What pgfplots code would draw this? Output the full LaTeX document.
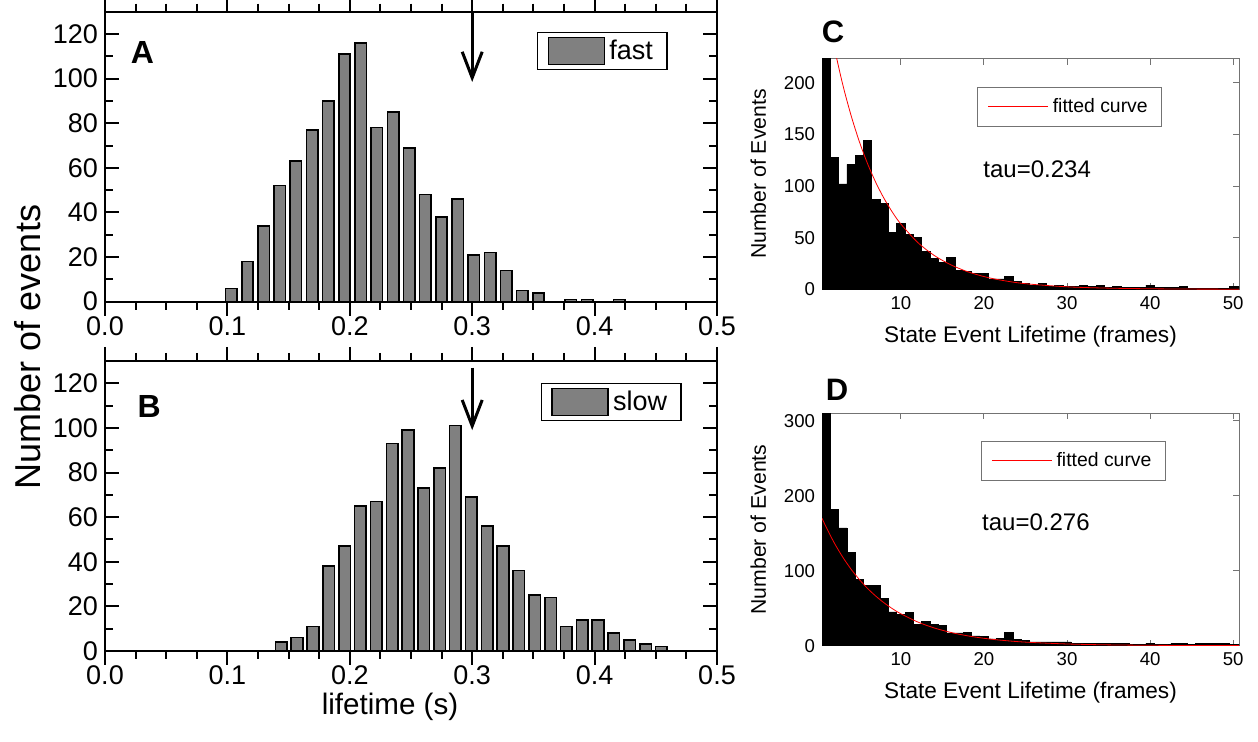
\documentclass[border=0pt]{standalone}
\usepackage{fontspec}
\setmainfont{Liberation Sans}
\usepackage{pgfplots}
\pgfplotsset{compat=1.18}
\usetikzlibrary{arrows.meta}
\definecolor{fitred}{RGB}{255,0,0}

\pgfplotsset{
  boxlegend/.style={legend image code/.code={\draw[fill=black!50, draw=black, line width=0.8pt] (0pt,-6.75pt) rectangle (28pt,6.75pt);}},
  linelegend/.style={legend image code/.code={\draw[draw=fitred, line width=0.6pt] (0pt,0.3pt) -- (30pt,0.3pt);}},
  lifeaxis/.style={
    scale only axis, width=306pt, height=145pt,
    xmin=0, xmax=0.5, ymin=0, ymax=130,
    xtick={0,0.1,0.2,0.3,0.4,0.5},
    xticklabels={0.0,0.1,0.2,0.3,0.4,0.5},
    ytick={0,20,40,60,80,100,120},
    minor x tick num=3, minor y tick num=1,
    tick align=inside,
    axis line style={line width=1pt},
    every tick/.style={black, line width=1pt},
    major tick length=7pt, minor tick length=4pt,
    tick label style={font=\fontsize{13.5}{15}\selectfont},
    xticklabel style={yshift=3pt},
    /pgf/number format/assume math mode=true,
    ybar,
    legend style={draw=black, line width=0.7pt, font=\fontsize{13.5}{15}\selectfont,
      inner xsep=5pt, inner ysep=1.5pt, anchor=north west},
  },
  frameaxis/.style={
    scale only axis, width=208.5pt,
    xmin=0.5, xmax=50.7, ymin=0,
    xtick={10,20,30,40,50},
    tick align=inside,
    axis line style={draw=black!55, line width=0.5pt},
    every tick/.style={black!55, line width=0.5pt},
    major tick length=3pt,
    tick label style={font=\fontsize{9.3}{11}\selectfont},
    /pgf/number format/assume math mode=true,
    xlabel={State Event Lifetime (frames)},
    ylabel={Number of Events},
    xlabel style={at={(rel axis cs:0.5,0)}, anchor=north, yshift=-18pt, inner sep=0pt,
      font=\fontsize{11.3}{13}\selectfont},
    ylabel style={at={(rel axis cs:-0.153,0.5)}, anchor=center, rotate=0,
      font=\fontsize{10.6}{12}\selectfont},
    legend style={draw=black!55, line width=0.5pt, font=\fontsize{9.7}{11}\selectfont,
      inner xsep=5pt, inner ysep=3.5pt, anchor=north west},
  },
}

\begin{document}
\begin{tikzpicture}
\path[use as bounding box] (0,0) rectangle (629pt,371pt);

% ---------------- Panel A ----------------
\begin{axis}[lifeaxis, at={(52.5pt,220.15pt)}, anchor=south west,
  legend style={at={(0.706,0.930)}}]
\addplot[fill=black!50, draw=black, line width=0.8pt, bar width=0.0093, boxlegend]
coordinates {
(0.1032,6) (0.1164,18) (0.1296,34) (0.1428,52) (0.1560,63) (0.1693,77)
(0.1825,90) (0.1957,111) (0.2089,116) (0.2221,78) (0.2353,85) (0.2485,69)
(0.2617,48) (0.2749,38) (0.2881,46) (0.3014,21) (0.3146,22) (0.3278,14)
(0.3410,5) (0.3542,4) (0.3806,1) (0.3938,1) (0.4202,1)
};
\addlegendentry{fast}
\draw[line width=1.5pt, -{Straight Barb[length=13pt, width=10pt]}]
  (axis cs:0.3,130) -- (axis cs:0.3,98.5);
\node[font=\bfseries\fontsize{16}{18}\selectfont] at (rel axis cs:0.061,0.861) {A};
\end{axis}

% ---------------- Panel B ----------------
\begin{axis}[lifeaxis, at={(52.5pt,45.5pt)}, anchor=south west,
  legend style={at={(0.712,0.924)}}]
\addplot[fill=black!50, draw=black, line width=0.8pt, bar width=0.0095, boxlegend]
coordinates {
(0.1440,4) (0.1569,6) (0.1699,11) (0.1828,38) (0.1958,47) (0.2087,65)
(0.2216,67) (0.2346,93) (0.2475,99) (0.2605,73) (0.2734,82) (0.2863,101)
(0.2993,69) (0.3122,56) (0.3252,47) (0.3381,36) (0.3510,25) (0.3640,24)
(0.3769,11) (0.3899,14) (0.4028,14) (0.4157,8) (0.4287,5) (0.4416,3)
(0.4546,2)
};
\addlegendentry{slow}
\draw[line width=1.5pt, -{Straight Barb[length=13pt, width=10pt]}]
  (axis cs:0.3,127) -- (axis cs:0.3,99);
\node[font=\bfseries\fontsize{16}{18}\selectfont] at (rel axis cs:0.072,0.842) {B};
\end{axis}

% ---------------- Panel C ----------------
\begin{axis}[frameaxis, height=115.15pt, ymax=223, ytick={0,50,100,150,200},
  at={(411pt,226.35pt)}, anchor=south west,
  legend style={at={(0.372,0.878)}}]
\addlegendimage{fitred, line width=0.6pt, linelegend}
\addlegendentry{fitted curve}
\addplot[const plot, fill=black, draw=black, forget plot] coordinates {
(0.5,260) (1.5,128) (2.5,102) (3.5,121) (4.5,130) (5.5,144) (6.5,87) (7.5,83)
(8.5,55) (9.5,64) (10.5,53) (11.5,50) (12.5,37) (13.5,30) (14.5,26) (15.5,31)
(16.5,18) (17.5,17) (18.5,15) (19.5,15) (20.5,10) (21.5,10) (22.5,12) (23.5,8)
(24.5,6) (25.5,3.5) (26.5,5.5) (27.5,3) (28.5,4) (29.5,3) (30.5,3) (31.5,4)
(32.5,2.5) (33.5,4) (34.5,2) (35.5,3) (36.5,1.5) (37.5,1.5) (38.5,1.5) (39.5,4)
(40.5,1.5) (41.5,1.5) (42.5,1.5) (43.5,3) (44.5,1) (45.5,1) (46.5,1) (47.5,1)
(48.5,1) (49.5,2.5) (50.7,2.5)
} \closedcycle;
\addplot[fitred, line width=0.4pt, smooth, forget plot]
coordinates {
(1,274.7) (1.5,253) (2,233.3) (3,198.1) (4,168.3) (5,142.9) (6,121.3) (7,103.0)
(8,87.5) (9,74.3) (10,63.1) (12,45.5) (14,32.8) (16,23.7) (18,17.1) (20,12.3)
(22,8.9) (25,5.4) (30,2.4) (35,1.1) (40,0.5) (45,0.2) (50.7,0.1)
};
\node[font=\fontsize{12}{14}\selectfont] at (rel axis cs:0.516,0.522) {tau=0.234};
\end{axis}

% ---------------- Panel D ----------------
\begin{axis}[frameaxis, height=116.2pt, ymax=310, ytick={0,100,200,300},
  at={(411pt,48.15pt)}, anchor=south west,
  legend style={at={(0.381,0.881)}}]
\addlegendimage{fitred, line width=0.6pt, linelegend}
\addlegendentry{fitted curve}
\addplot[const plot, fill=black, draw=black, forget plot] coordinates {
(0.5,330) (1.5,182) (2.5,157) (3.5,124) (4.5,88) (5.5,80) (6.5,80) (7.5,63)
(8.5,45) (9.5,42) (10.5,44) (11.5,28) (12.5,32) (13.5,28) (14.5,27) (15.5,17)
(16.5,17) (17.5,18) (18.5,13) (19.5,12) (20.5,9) (21.5,10) (22.5,18) (23.5,8)
(24.5,7) (25.5,5) (26.5,5) (27.5,5) (28.5,5) (29.5,5) (30.5,3) (31.5,3)
(32.5,3) (33.5,3) (34.5,3) (35.5,3) (36.5,3) (37.5,1.5) (38.5,1.5) (39.5,3.5)
(40.5,1.5) (41.5,1.5) (42.5,3.5) (43.5,3.5) (44.5,2) (45.5,3.5) (46.5,3.5) (47.5,3.5)
(48.5,3.5) (49.5,2) (50.7,2)
} \closedcycle;
\addplot[fitred, line width=0.4pt, smooth, forget plot]
coordinates {
(0.5,170) (1,158.1) (2,136.6) (3,118.1) (4,102.0) (5,88.2) (6,76.2) (7,65.9)
(8,56.9) (9,49.2) (10,42.5) (12,31.7) (14,23.7) (16,17.7) (18,13.2) (20,9.86)
(22,7.36) (25,4.75) (30,2.29) (35,1.10) (40,0.53) (45,0.26) (50.7,0.11)
};
\node[font=\fontsize{12}{14}\selectfont] at (rel axis cs:0.513,0.530) {tau=0.276};
\end{axis}

% ---------------- Shared labels ----------------
\node[rotate=90, font=\fontsize{18}{20}\selectfont] at (14pt,197.5pt) {Number of events};
\node[font=\fontsize{14.8}{17}\selectfont] at (195pt,17.5pt) {lifetime (s)};
\node[font=\bfseries\fontsize{15.5}{17}\selectfont] at (416.5pt,355pt) {C};
\node[font=\bfseries\fontsize{15.5}{17}\selectfont] at (418.5pt,176pt) {D};
\end{tikzpicture}
\end{document}
